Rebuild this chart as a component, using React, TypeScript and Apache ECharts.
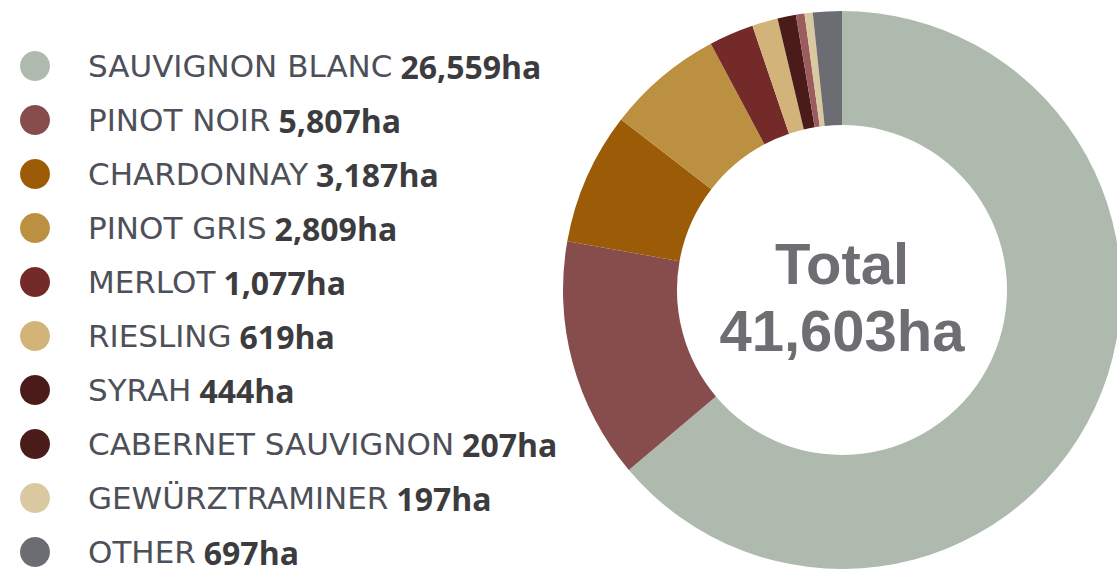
import React, { useEffect, useRef } from "react";
import * as echarts from "echarts";

const varieties = [
  "SAUVIGNON BLANC",
  "PINOT NOIR",
  "CHARDONNAY",
  "PINOT GRIS",
  "MERLOT",
  "RIESLING",
  "SYRAH",
  "CABERNET SAUVIGNON",
  "GEWÜRZTRAMINER",
  "OTHER",
];
const hectares = [26559, 5807, 3187, 2809, 1077, 619, 444, 207, 197, 697];
const sliceColors = [
  "#aebaae",
  "#874c4c",
  "#9b5b07",
  "#bc9041",
  "#752a2a",
  "#d2b47a",
  "#4a1b19",
  "#9a5c5c",
  "#dac9a0",
  "#6c6d72",
];
const legendColors = [
  "#aebaae",
  "#874c4c",
  "#9b5b07",
  "#bc9041",
  "#752a2a",
  "#d2b47a",
  "#4a1b19",
  "#4a1b19",
  "#dac9a0",
  "#6c6d72",
];
const totalLabel = "Total";
const totalValue = "41,603ha";

const fmt = (v: number) => v.toLocaleString("en-US");

export default function App() {
  const ref = useRef<HTMLDivElement>(null);
  useEffect(() => {
    if (!ref.current) return;
    const chart = echarts.init(ref.current, null, { renderer: "svg" });
    const valueByName: Record<string, number> = {};
    varieties.forEach((n, i) => (valueByName[n] = hectares[i]));
    chart.setOption({
      animation: false,
      backgroundColor: "#ffffff",
      legend: {
        orient: "vertical",
        left: 20,
        top: 50,
        height: 540,
        padding: 0,
        itemWidth: 30,
        itemHeight: 30,
        itemGap: 22,
        icon: "circle",
        selectedMode: false,
        data: varieties.map((n, i) => ({
          name: n,
          itemStyle: { color: legendColors[i] },
        })),
        formatter: (name: string) =>
          `{n|${name}}{v|${fmt(valueByName[name])}ha}`,
        textStyle: {
          rich: {
            n: {
              fontFamily: "DejaVu Sans",
              fontSize: 31,
              color: "#4d5058",
              lineHeight: 32,
              padding: [0, 0, 0, 33],
            },
            v: {
              fontFamily: "Open Sans",
              fontWeight: "bold",
              fontSize: 32,
              color: "#3c3c3e",
              lineHeight: 32,
              padding: [0, 0, 0, 8],
            },
          },
        },
      },
      graphic: [
        {
          type: "text",
          x: 842,
          y: 263,
          style: {
            text: totalLabel,
            fontFamily: "Liberation Sans",
            fontWeight: "bold",
            fontSize: 58,
            lineHeight: 58,
            fill: "#6d6e72",
            textAlign: "center",
            textVerticalAlign: "middle",
          },
        },
        {
          type: "text",
          x: 842,
          y: 330,
          style: {
            text: totalValue,
            fontFamily: "Liberation Sans",
            fontWeight: "bold",
            fontSize: 58,
            lineHeight: 58,
            fill: "#6d6e72",
            textAlign: "center",
            textVerticalAlign: "middle",
          },
        },
      ],
      series: [
        {
          type: "pie",
          center: [842, 290],
          radius: [165, 279],
          startAngle: 90,
          clockwise: true,
          silent: true,
          label: { show: false },
          labelLine: { show: false },
          emphasis: { disabled: true },
          itemStyle: { borderWidth: 0 },
          data: varieties.map((n, i) => ({
            name: n,
            value: hectares[i],
            itemStyle: { color: sliceColors[i] },
          })),
        },
      ],
    });
    return () => chart.dispose();
  }, []);
  return (
    <div
      ref={ref}
      style={{ position: "absolute", left: 0, top: 0, width: 1117, height: 572 }}
    />
  );
}
